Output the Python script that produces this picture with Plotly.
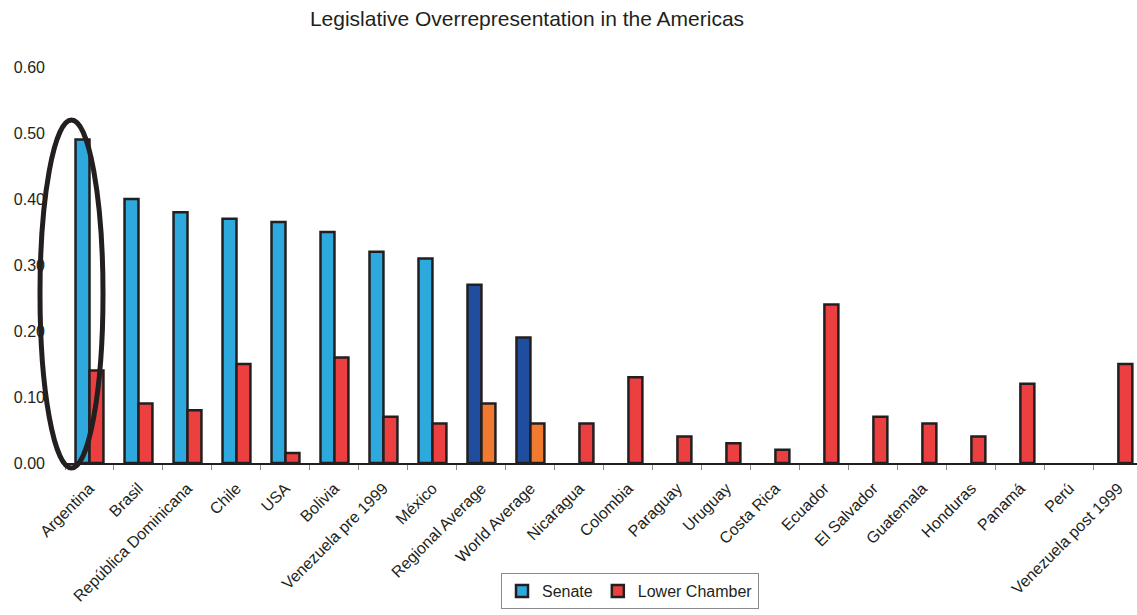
import plotly.graph_objects as go

categories = ["Argentina", "Brasil", "República Dominicana", "Chile", "USA", "Bolivia",
              "Venezuela pre 1999", "México", "Regional Average", "World Average",
              "Nicaragua", "Colombia", "Paraguay", "Uruguay", "Costa Rica", "Ecuador",
              "El Salvador", "Guatemala", "Honduras", "Panamá", "Perú", "Venezuela post 1999"]

senate = [0.49, 0.40, 0.38, 0.37, 0.365, 0.35, 0.32, 0.31, 0.27, 0.19,
          None, None, None, None, None, None, None, None, None, None, None, None]

lower_chamber = [0.14, 0.09, 0.08, 0.15, 0.015, 0.16, 0.07, 0.06, 0.09, 0.06,
                 0.06, 0.13, 0.04, 0.03, 0.02, 0.24, 0.07, 0.06, 0.04, 0.12, None, 0.15]

average_names = {"Regional Average", "World Average"}

SENATE_C, SENATE_AVG_C = "#2DA9DE", "#1F4E9E"
LOWER_C, LOWER_AVG_C = "#EC4040", "#F07A30"
EDGE = "#231F20"

senate_colors = [SENATE_AVG_C if c in average_names else SENATE_C for c in categories]
lower_colors = [LOWER_AVG_C if c in average_names else LOWER_C for c in categories]

FONT = "Liberation Sans, Arial, sans-serif"

fig = go.Figure()
fig.add_trace(go.Bar(x=categories, y=senate, name="Senate",
                     marker=dict(color=senate_colors, line=dict(color=EDGE, width=2.5))))
fig.add_trace(go.Bar(x=categories, y=lower_chamber, name="Lower Chamber",
                     marker=dict(color=lower_colors, line=dict(color=EDGE, width=2.5))))

W, H = 1137, 615
ml, mr, mt, mb = 65, 0, 67, 152
pw, ph = W - ml - mr, H - mt - mb

def px_to_paper_x(px):
    return (px - ml) / pw

def px_to_paper_y(py):
    return (H - mb - py) / ph

# highlight ellipse around Argentina
fig.add_shape(type="circle", xref="paper", yref="paper",
              x0=px_to_paper_x(40), x1=px_to_paper_x(103),
              y0=px_to_paper_y(468), y1=px_to_paper_y(120),
              line=dict(color=EDGE, width=5), layer="above")

fig.update_layout(
    width=W, height=H,
    margin=dict(l=ml, r=mr, t=mt, b=mb, autoexpand=False),
    paper_bgcolor="white", plot_bgcolor="white",
    barmode="group", bargap=0.43, bargroupgap=0,
    font=dict(family=FONT, size=16, color=EDGE),
    title=dict(text="Legislative Overrepresentation in the Americas",
               x=527 / W, xanchor="center", y=1 - 19 / H, yanchor="middle",
               font=dict(family=FONT, size=21, color=EDGE)),
    xaxis=dict(range=[-0.5, 21.38], showgrid=False, zeroline=False,
               showline=True, linecolor=EDGE, linewidth=1.5,
               ticks="outside", tickson="boundaries", ticklen=5, tickcolor="#8a8a8a",
               tickangle=-45, ticklabelstandoff=8, tickfont=dict(size=16, color=EDGE)),
    yaxis=dict(range=[0, 0.6], dtick=0.1, tickformat=".2f", showgrid=False,
               zeroline=False, showline=False, ticks="", ticklabelstandoff=19,
               tickfont=dict(size=16, color=EDGE)),
    legend=dict(orientation="h", x=px_to_paper_x(501), xanchor="left",
                y=px_to_paper_y(573), yanchor="top",
                bordercolor="#8a8a8a", borderwidth=1, bgcolor="white",
                font=dict(size=16, color=EDGE), itemwidth=30),
)

fig.write_html("out.html")
